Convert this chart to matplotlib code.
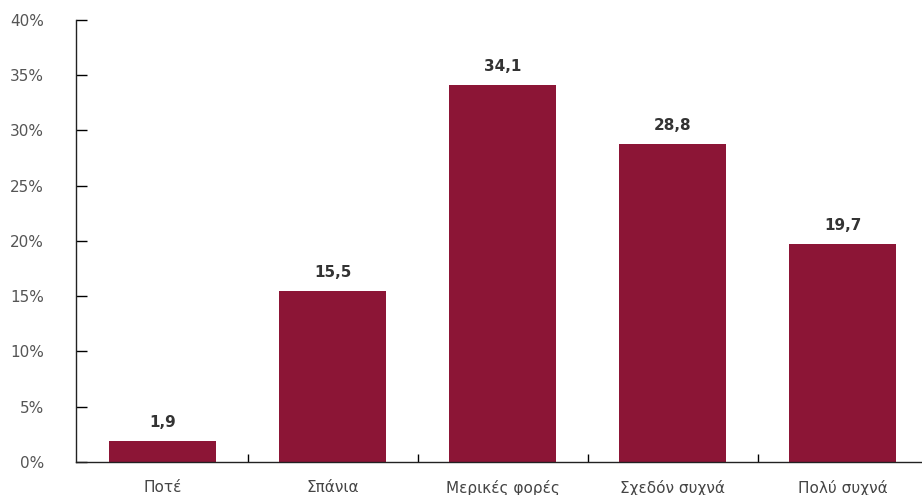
import matplotlib
matplotlib.use('Agg')
import matplotlib.pyplot as plt
import numpy as np

plt.rcParams['font.family'] = ['DejaVu Sans']

categories = ['Ποτέ', 'Σπάνια', 'Μερικές φορές', 'Σχεδόν συχνά', 'Πολύ συχνά']
values = [1.9, 15.5, 34.1, 28.8, 19.7]
yticks = [0, 5, 10, 15, 20, 25, 30, 35, 40]

bar_color = '#8c1536'

fig = plt.figure(figsize=(9.22, 4.95), dpi=100)
ax = fig.add_axes([0.0824, 0.0667, 0.9176, 0.8929])

x = np.arange(len(categories))
ax.bar(x, values, width=0.63, color=bar_color, zorder=2)

for xi, v in zip(x, values):
    ax.text(xi, v + 1.0, f'{v:.1f}'.replace('.', ','), ha='center', va='bottom',
            fontsize=11, fontweight='bold', color='#333333')

ax.set_xlim(-0.51, 4.467)
ax.set_ylim(0, 40)
ax.set_yticks(yticks)
ax.set_yticklabels([f'{t}%' for t in yticks])
ax.tick_params(axis='y', direction='in', length=8, width=1, pad=23,
               labelsize=11, labelcolor='#555555')

# category labels centred, ticks on the boundaries
ax.set_xticks(x)
ax.set_xticklabels(categories)
ax.tick_params(axis='x', which='major', length=0, pad=13, labelsize=11,
               labelcolor='#444444')
ax.set_xticks(np.arange(0.5, len(categories) - 0.5, 1), minor=True)
ax.tick_params(axis='x', which='minor', direction='in', length=6, width=1)

for s in ['top', 'right']:
    ax.spines[s].set_visible(False)
for s in ['left', 'bottom']:
    ax.spines[s].set_linewidth(1)
    ax.spines[s].set_color('#222222')

fig.savefig('out.png', dpi=100)
